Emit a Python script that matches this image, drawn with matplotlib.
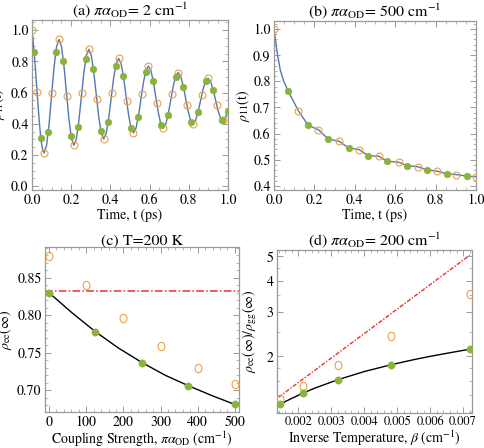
import numpy as np
import matplotlib
matplotlib.use("Agg")
import matplotlib.pyplot as plt
from matplotlib.ticker import MultipleLocator, FixedLocator, NullFormatter, FixedFormatter
from matplotlib.path import Path

plt.rcParams['font.family'] = ['STIXGeneral', 'DejaVu Serif']
plt.rcParams['mathtext.fontset'] = 'stix'

# ---------------- data ----------------
# (a) pi*alpha_OD = 2 cm^-1
a_orange_t = [0.0, 0.0257, 0.0616, 0.1009, 0.1376, 0.1772, 0.2136, 0.2537, 0.2896, 0.3301,
              0.3656, 0.4069, 0.4416, 0.4834, 0.5176, 0.5597, 0.5936, 0.6364, 0.6696, 0.7131,
              0.7456, 0.7900, 0.8216, 0.8655, 0.8976, 0.9420, 0.9736]
a_orange_y = [1.000, 0.606, 0.213, 0.596, 0.941, 0.579, 0.262, 0.596, 0.877, 0.560,
              0.302, 0.596, 0.819, 0.543, 0.341, 0.592, 0.770, 0.532, 0.372, 0.590,
              0.728, 0.521, 0.400, 0.581, 0.692, 0.521, 0.421]
a_green_t = [0.0110, 0.0451, 0.0829, 0.1208, 0.1603, 0.1988, 0.2352, 0.2737, 0.3134, 0.3513,
             0.3884, 0.4268, 0.4662, 0.5052, 0.5423, 0.5794, 0.6183, 0.6581, 0.6945, 0.7324,
             0.7729, 0.8135, 0.8467, 0.8858, 0.9252, 0.9670, 0.9990]
a_green_y = [0.857, 0.309, 0.345, 0.857, 0.802, 0.324, 0.377, 0.813, 0.749, 0.351,
             0.409, 0.772, 0.706, 0.372, 0.443, 0.734, 0.675, 0.394, 0.458, 0.702,
             0.634, 0.409, 0.472, 0.675, 0.613, 0.426, 0.483]
# exact solution curve (a)
a_curve_t = [0.0, 0.0046, 0.0109, 0.0173, 0.0236, 0.0299, 0.0363, 0.0426, 0.0489, 0.0553,
             0.0616, 0.0743, 0.0869, 0.0996, 0.1123, 0.1249,
             0.1376, 0.1503, 0.1629, 0.1756, 0.1883, 0.2009,
             0.2136, 0.2263, 0.2389, 0.2516, 0.2643, 0.2769,
             0.2896, 0.3023, 0.3149, 0.3276, 0.3403, 0.3529,
             0.3656, 0.3783, 0.3909, 0.4036, 0.4163, 0.4289,
             0.4416, 0.4543, 0.4669, 0.4796, 0.4923, 0.5049,
             0.5176, 0.5303, 0.5429, 0.5556, 0.5683, 0.5809,
             0.5936, 0.6063, 0.6189, 0.6316, 0.6443, 0.6569,
             0.6696, 0.6823, 0.6949, 0.7076, 0.7203, 0.7329,
             0.7456, 0.7583, 0.7709, 0.7836, 0.7963, 0.8089,
             0.8216, 0.8343, 0.8469, 0.8596, 0.8723, 0.8849,
             0.8976, 0.9103, 0.9229, 0.9356, 0.9483, 0.9609,
             0.9736, 0.9863, 0.9989, 1.0]
a_curve_y = [1.000, 0.948, 0.858, 0.755, 0.643, 0.532, 0.428, 0.339, 0.271, 0.228,
             0.213, 0.262, 0.395, 0.577, 0.759, 0.892,
             0.941, 0.896, 0.771, 0.602, 0.432, 0.307,
             0.262, 0.303, 0.416, 0.570, 0.723, 0.836,
             0.877, 0.838, 0.733, 0.590, 0.446, 0.342,
             0.302, 0.337, 0.431, 0.561, 0.690, 0.784,
             0.819, 0.787, 0.700, 0.580, 0.461, 0.373,
             0.341, 0.370, 0.448, 0.556, 0.663, 0.741,
             0.770, 0.743, 0.671, 0.571, 0.472, 0.399,
             0.372, 0.396, 0.461, 0.550, 0.639, 0.704,
             0.728, 0.706, 0.646, 0.564, 0.482, 0.422,
             0.400, 0.420, 0.473, 0.546, 0.619, 0.672,
             0.692, 0.674, 0.624, 0.557, 0.489, 0.439,
             0.421, 0.437, 0.481, 0.485]

# (b) pi*alpha_OD = 500 cm^-1
b_orange_t = [0.0, 0.121, 0.220, 0.322, 0.422, 0.518, 0.617, 0.711, 0.807, 0.901, 1.000]
b_orange_y = [1.000, 0.687, 0.615, 0.571, 0.539, 0.514, 0.491, 0.474, 0.457, 0.444, 0.436]
b_green_t = [0.071, 0.169, 0.268, 0.369, 0.466, 0.559, 0.658, 0.757, 0.856, 0.954]
b_green_y = [0.761, 0.632, 0.580, 0.546, 0.516, 0.495, 0.478, 0.462, 0.447, 0.438]
b_curve_t = [0.0, 0.015, 0.031, 0.048]
b_curve_y = [1.000, 0.913, 0.843, 0.800]

# (c) T = 200 K
c_green_x = [0, 125, 250, 375, 500]
c_green_y = [0.830, 0.778, 0.737, 0.706, 0.681]
c_orange_x = [0, 100, 200, 300, 400, 500]
c_orange_y = [0.879, 0.841, 0.796, 0.759, 0.730, 0.709]
c_curve_x = [0, 62.5, 125, 187.5, 250, 312.5, 375, 437.5, 500]
c_curve_y = [0.830, 0.803, 0.778, 0.756, 0.737, 0.720, 0.706, 0.693, 0.681]
c_red_level = 0.833

# (d) pi*alpha_OD = 200 cm^-1
d_beta = [0.00144, 0.00215, 0.00320, 0.00480, 0.00720]
d_green_y = [1.29, 1.43, 1.615, 1.85, 2.13]
d_orange_y = [1.355, 1.53, 1.85, 2.41, 3.53]
d_curve_x = [0.00135, 0.00144, 0.0018, 0.00215, 0.0025, 0.0032, 0.0040, 0.0048, 0.0055, 0.0060, 0.0065, 0.0072]
d_curve_y = [1.27, 1.29, 1.361, 1.43, 1.495, 1.615, 1.74, 1.85, 1.94, 2.00, 2.056, 2.135]
d_red_x = [0.00140, 0.00720]
d_red_y = [1.376, 5.05]

# ---------------- style ----------------
GREEN = '#8BB23B'
ORANGE = '#E9A24A'
BLUE = '#5577B5'
RED = '#E8312C'
FRAME = '#9A9A9A'
W, H = 484, 448
FS = 10.0
FT = 11.5

fig = plt.figure(figsize=(W / 100, H / 100), dpi=100)


def add_ax(l, r, t, b):
    return fig.add_axes([l / W, 1 - b / H, (r - l) / W, (b - t) / H])


def style(ax):
    for s in ax.spines.values():
        s.set_color(FRAME)
        s.set_linewidth(0.9)
    ax.tick_params(which='both', direction='in', top=True, right=True, color=FRAME,
                   labelsize=FS, pad=2.5)
    ax.tick_params(which='major', length=4, width=0.7)
    ax.tick_params(which='minor', length=2.2, width=0.5)


# letter-O like oval marker
th = np.linspace(0, 2 * np.pi, 60)
oval = Path(np.column_stack([0.82 * np.cos(th), np.sin(th)]))

def green_pts(ax, x, y, ms=4.9):
    ax.plot(x, y, 'o', color=GREEN, ms=ms, mec=GREEN, mew=0.3, zorder=4)

def orange_pts(ax, x, y, ms=5.0, marker='o'):
    ax.plot(x, y, marker=marker, ls='none', ms=ms, mfc='none', mec=ORANGE, mew=0.8, zorder=3)

fmt1 = plt.FuncFormatter(lambda v, p: f'{v:.1f}')

# ---- (a)
ax = add_ax(32, 228, 20, 190)
style(ax)
ax.plot(a_curve_t, a_curve_y, color=BLUE, lw=1.0, zorder=2)
orange_pts(ax, a_orange_t, a_orange_y)
green_pts(ax, a_green_t, a_green_y)
ax.set_xlim(0, 1)
ax.set_ylim(-0.025, 1.065)
ax.xaxis.set_major_locator(MultipleLocator(0.2))
ax.xaxis.set_minor_locator(MultipleLocator(0.05))
ax.yaxis.set_major_locator(MultipleLocator(0.2))
ax.yaxis.set_minor_locator(MultipleLocator(0.05))
ax.xaxis.set_major_formatter(fmt1)
ax.yaxis.set_major_formatter(fmt1)
ax.set_title(r'(a) $\pi\alpha_{\rm OD}$= 2 cm$^{-1}$', fontsize=FT, pad=2)
ax.set_xlabel('Time, t (ps)', fontsize=FS, labelpad=1)
ax.set_ylabel(r'$\rho_{11}$(t)', fontsize=9.5)
ax.yaxis.set_label_coords(-0.128, 0.5)

# ---- (b)
ax = add_ax(274, 476, 21, 190)
style(ax)
ct = np.array(b_curve_t + b_orange_t[1:] + b_green_t)
cy = np.array(b_curve_y + b_orange_y[1:] + b_green_y)
order = np.argsort(ct)
ax.plot(ct[order], cy[order], color=BLUE, lw=1.0, zorder=2)
orange_pts(ax, b_orange_t, b_orange_y)
green_pts(ax, b_green_t, b_green_y)
ax.set_xlim(0, 1)
ax.set_ylim(0.385, 1.03)
ax.xaxis.set_major_locator(MultipleLocator(0.2))
ax.xaxis.set_minor_locator(MultipleLocator(0.05))
ax.yaxis.set_major_locator(MultipleLocator(0.1))
ax.yaxis.set_minor_locator(MultipleLocator(0.02))
ax.xaxis.set_major_formatter(fmt1)
ax.yaxis.set_major_formatter(fmt1)
ax.set_title(r'(b) $\pi\alpha_{\rm OD}$= 500 cm$^{-1}$', fontsize=FT, pad=2)
ax.set_xlabel('Time, t (ps)', fontsize=FS, labelpad=1)
ax.set_ylabel(r'$\rho_{11}$(t)', fontsize=FS)
ax.yaxis.set_label_coords(-0.11, 0.5)

# ---- (c)
ax = add_ax(45, 239, 247, 412)
style(ax)
ax.axhline(c_red_level, color=RED, lw=1.1, ls=(0, (5, 1.5, 1, 1.5)), zorder=1)
ax.plot(c_curve_x, c_curve_y, color='black', lw=1.0, zorder=2)
orange_pts(ax, c_orange_x, c_orange_y, ms=6.0, marker=oval)
green_pts(ax, c_green_x, c_green_y, ms=5.3)
ax.set_xlim(-10.8, 511)
ax.set_ylim(0.671, 0.891)
ax.xaxis.set_major_locator(MultipleLocator(100))
ax.xaxis.set_minor_locator(MultipleLocator(20))
ax.yaxis.set_major_locator(MultipleLocator(0.05))
ax.yaxis.set_minor_locator(MultipleLocator(0.01))
ax.yaxis.set_major_formatter(plt.FuncFormatter(lambda v, p: f'{v:.2f}'))
ax.set_title('(c) T=200 K', fontsize=FT, pad=2)
ax.set_xlabel(r'Coupling Strength, $\pi\alpha_{\rm OD}$ (cm$^{-1}$)', fontsize=FS, labelpad=0.5)
ax.set_ylabel(r'$\rho_{\rm ee}(\infty)$', fontsize=FS)
ax.yaxis.set_label_coords(-0.16, 0.5)

# ---- (d)
ax = add_ax(277, 472, 250, 413)
style(ax)
ax.set_yscale('log')
ax.plot(d_red_x, d_red_y, color=RED, lw=1.0, ls=(0, (3, 1.2, 1, 1.2)), zorder=1)
ax.plot(d_curve_x, d_curve_y, color='black', lw=1.0, zorder=2)
orange_pts(ax, d_beta, d_orange_y, ms=6.0, marker=oval)
green_pts(ax, d_beta, d_green_y, ms=5.3)
ax.set_xlim(0.00135, 0.00727)
ax.set_ylim(1.19, 5.3)
ax.xaxis.set_major_locator(MultipleLocator(0.001))
ax.xaxis.set_minor_locator(MultipleLocator(0.0002))
ax.xaxis.set_major_formatter(plt.FuncFormatter(lambda v, p: f'{v:.3f}'))
ax.yaxis.set_major_locator(FixedLocator([2, 3, 4, 5]))
ax.yaxis.set_major_formatter(FixedFormatter(['2', '3', '4', '5']))
ax.yaxis.set_minor_locator(FixedLocator([1.2, 1.4, 1.6, 1.8, 2.5, 3.5, 4.5]))
ax.yaxis.set_minor_formatter(NullFormatter())
ax.tick_params(axis='x', labelsize=9)
ax.set_title(r'(d) $\pi\alpha_{\rm OD}$= 200 cm$^{-1}$', fontsize=FT, pad=2)
ax.set_xlabel(r'Inverse Temperature, $\beta$ (cm$^{-1}$)', fontsize=FS, labelpad=0.5)
ax.set_ylabel(r'$\rho_{\rm ee}(\infty)/\rho_{\rm gg}(\infty)$', fontsize=FS)
ax.yaxis.set_label_coords(-0.09, 0.5)

fig.savefig('out.png', dpi=100)
